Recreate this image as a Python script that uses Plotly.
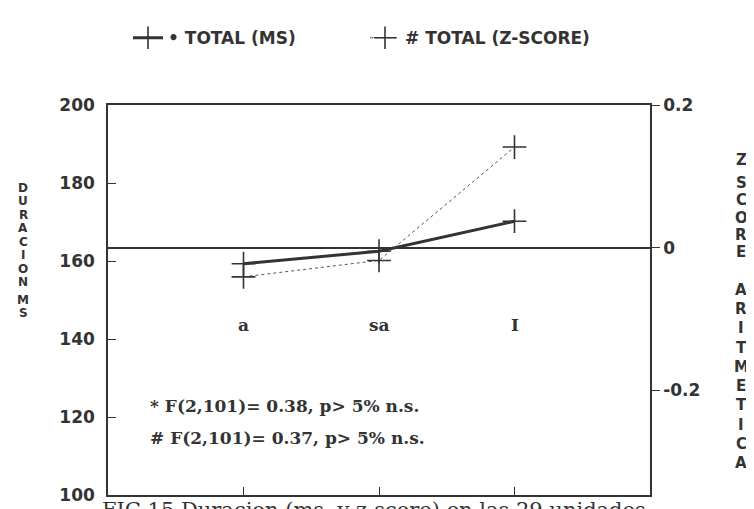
import plotly.graph_objects as go

# ---- data ----
stages = ["a", "sa", "I"]
total_ms = [159.3, 162.5, 170.2]
total_z = [-0.041, -0.018, 0.141]
stat_lines = ["* F(2,101)= 0.38, p> 5% n.s.",
              "# F(2,101)= 0.37, p> 5% n.s."]
left_title = ["D", "U", "R", "A", "C", "I", "O", "N", "", "M", "S"]
right_title = ["Z", "", "S", "C", "O", "R", "E", "", "A", "R", "I", "T", "M", "E", "T", "I", "C", "A"]
caption = "FIG.15 Duracion (ms. y z-score) en las 29 unidades"
left_ticks = [100, 120, 140, 160, 180, 200]
right_ticks = [-0.2, 0, 0.2]

W, H = 754, 509
L, R, T, B = 100, 642, 90, 495


def px(x):
    return (x - L) / (R - L)


def py(y):
    return (B - y) / (B - T)


INK = "#333333"
SANS = "DejaVu Sans"
SERIF = "DejaVu Serif"

xs = [i + 1 for i in range(len(stages))]

fig = go.Figure()
fig.add_trace(go.Scatter(
    x=xs, y=total_ms, name="• TOTAL (MS)", mode="lines+markers",
    line=dict(color=INK, width=3),
    marker=dict(symbol="cross-thin", size=17, line=dict(width=1.6, color=INK)),
    yaxis="y"))
fig.add_trace(go.Scatter(
    x=xs, y=total_z, name="# TOTAL (Z-SCORE)", mode="lines+markers",
    line=dict(color="#555555", width=1, dash="dot"),
    marker=dict(symbol="cross-thin", size=17, line=dict(width=1.6, color=INK)),
    yaxis="y2"))

ann = []
# stage labels
for xv, s in zip(xs, stages):
    ann.append(dict(x=xv, y=143.7, xref="x", yref="y", text=s, showarrow=False,
                    font=dict(family=SERIF, size=17, color=INK, weight="bold"),
                    xanchor="center", yanchor="middle"))
# stats
for i, s in enumerate(stat_lines):
    ann.append(dict(x=px(140), y=py(403 + 33 * i), xref="paper", yref="paper",
                    text=s, showarrow=False, xanchor="left", yanchor="middle",
                    font=dict(family=SERIF, size=17, color=INK, weight="bold")))
# left stacked title
ly = [176, 190, 204, 218, 232, 246, 260, 274, 0, 292, 306]
for ch, yy in zip(left_title, ly):
    if ch:
        ann.append(dict(x=px(15), y=py(yy), xref="paper", yref="paper", text=ch,
                        showarrow=False, xanchor="center", yanchor="middle",
                        font=dict(family=SANS, size=12, color=INK, weight="bold")))
# right stacked title
ry = [147, 0, 171, 189, 207, 225, 243, 0, 282, 302, 322, 342, 362, 382, 402, 422, 442, 462]
for ch, yy in zip(right_title, ry):
    if ch:
        ann.append(dict(x=px(733), y=py(yy), xref="paper", yref="paper", text=ch,
                        showarrow=False, xanchor="center", yanchor="middle",
                        font=dict(family=SANS, size=15, color=INK, weight="bold")))
# caption (cut by bottom edge, as in the reference)
ann.append(dict(x=px(92), y=py(496), xref="paper", yref="paper", text=caption,
                showarrow=False, xanchor="left", yanchor="top",
                font=dict(family=SERIF, size=21, color=INK)))

fig.update_layout(
    width=W, height=H,
    margin=dict(l=L, r=W - R, t=T, b=H - B, pad=0),
    paper_bgcolor="white", plot_bgcolor="white",
    showlegend=True,
    legend=dict(orientation="h", x=px(120), y=py(2), xanchor="left", yanchor="top",
                font=dict(family=SANS, size=17, color=INK, weight="bold"),
                entrywidth=192, entrywidthmode="pixels", bgcolor="rgba(0,0,0,0)"),
    xaxis=dict(range=[0, 4], tickvals=xs, ticktext=["", "", ""], ticks="inside",
               ticklen=8, tickwidth=1.2, tickcolor=INK, showline=True, linecolor=INK,
               linewidth=1.5, mirror=True, showgrid=False, zeroline=False),
    yaxis=dict(range=[100, 200], tickvals=left_ticks, ticks="inside", ticklen=8,
               tickwidth=1.2, tickcolor=INK, showline=True, linecolor=INK, linewidth=1.5,
               showgrid=False, zeroline=False, ticklabelstandoff=8,
               tickfont=dict(family=SANS, size=17, color=INK, weight="bold")),
    yaxis2=dict(range=[-0.347, 0.2], tickvals=right_ticks,
                ticktext=["-0.2", "0", "0.2"], overlaying="y", side="right",
                ticks="outside", ticklen=8, tickwidth=1.2, tickcolor=INK,
                showline=True, linecolor=INK, linewidth=1.5, showgrid=False,
                zeroline=True, zerolinecolor=INK, zerolinewidth=1.5,
                tickfont=dict(family=SANS, size=17, color=INK, weight="bold")),
    annotations=ann,
)

fig.write_html("out.html")
